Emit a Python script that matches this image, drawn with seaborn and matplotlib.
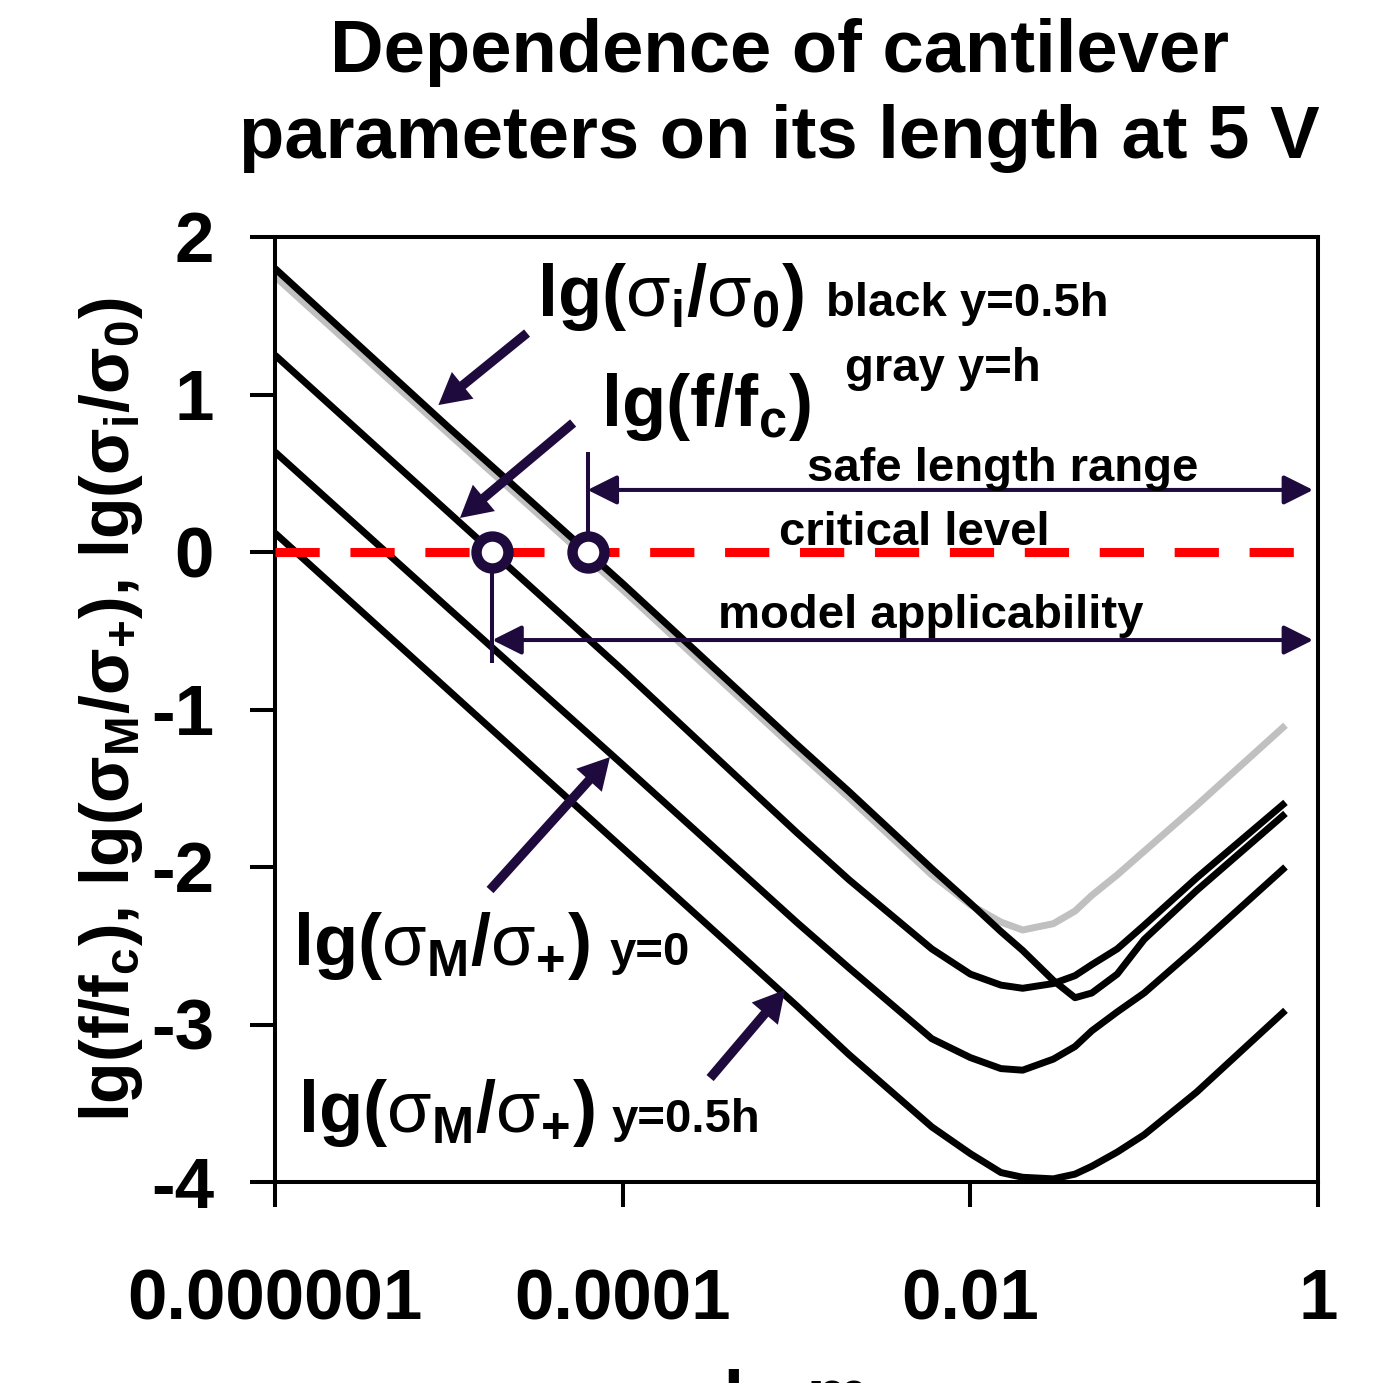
import numpy as np
import pandas as pd
import matplotlib
matplotlib.use("Agg")
import matplotlib.pyplot as plt
from matplotlib.ticker import NullLocator
import seaborn as sns

# ---------------- data ----------------
L_m = [1e-6, 1e-5, 1e-4, 1e-3, 0.002, 0.006, 0.01, 0.015, 0.02, 0.03,
       0.04, 0.05, 0.07, 0.1, 0.2, 0.65]
sigma_i_black = [1.80, 0.79, -0.20, -1.22, -1.52, -2.01, -2.23, -2.41, -2.53,
                 -2.72, -2.83, -2.80, -2.68, -2.46, -2.15, -1.66]
sigma_i_gray = [1.75, 0.75, -0.24, -1.26, -1.56, -2.05, -2.24, -2.35, -2.40,
                -2.36, -2.28, -2.18, -2.05, -1.90, -1.61, -1.10]
f_fc = [1.25, 0.25, -0.75, -1.78, -2.08, -2.52, -2.68, -2.75, -2.77, -2.74,
        -2.69, -2.62, -2.52, -2.37, -2.07, -1.59]
sigmaM_y0 = [0.635, -0.36, -1.35, -2.35, -2.64, -3.09, -3.21, -3.28, -3.29,
             -3.22, -3.14, -3.04, -2.92, -2.80, -2.51, -2.00]
sigmaM_y05h = [0.12, -0.88, -1.88, -2.88, -3.19, -3.65, -3.82, -3.94, -3.97,
               -3.98, -3.95, -3.90, -3.81, -3.70, -3.43, -2.91]

x_ticks = [1e-6, 1e-4, 1e-2, 1]
x_ticklabels = ["0.000001", "0.0001", "0.01", "1"]
y_ticks = [-4, -3, -2, -1, 0, 1, 2]
y_ticklabels = ["-4", "-3", "-2", "-1", "0", "1", "2"]
critical_level = 0.0

# ---------------- style ----------------
sns.set_theme(style="ticks")
plt.rcParams["font.family"] = ["Liberation Sans", "DejaVu Sans"]
plt.rcParams["font.weight"] = "bold"
plt.rcParams["axes.unicode_minus"] = False
plt.rcParams["mathtext.fontset"] = "custom"
plt.rcParams["mathtext.sf"] = "Liberation Sans:weight=normal"
plt.rcParams["mathtext.rm"] = "Liberation Sans:bold"
plt.rcParams["mathtext.bf"] = "Liberation Sans:bold"
plt.rcParams["mathtext.it"] = "Liberation Sans:bold:italic"

ANNOT = "#1f0a3d"
W, H = 1385, 1383

fig = plt.figure(figsize=(W / 100, H / 100), dpi=100)
ax = fig.add_axes([275 / W, 1 - 1182 / H, (1318 - 275) / W, (1182 - 237) / H])
ax.set_xscale("log")

df = pd.DataFrame({"L": L_m, "gray": sigma_i_gray, "black": sigma_i_black,
                   "f": f_fc, "m0": sigmaM_y0, "m05": sigmaM_y05h})
for col, color, z in [("gray", "#c0c0c0", 2), ("black", "black", 3), ("f", "black", 3),
                      ("m0", "black", 3), ("m05", "black", 3)]:
    sns.lineplot(data=df, x="L", y=col, color=color, lw=5, ax=ax,
                 estimator=None, sort=False, zorder=z, solid_capstyle="butt")

ax.set_xlim(1e-6, 1)
ax.set_ylim(-4, 2)
ax.set_xticks(x_ticks)
ax.set_xticklabels(x_ticklabels)
ax.xaxis.set_minor_locator(NullLocator())
ax.set_yticks(y_ticks)
ax.set_yticklabels(y_ticklabels)
ax.tick_params(axis="both", direction="out", length=18, width=2.9, color="black",
               labelsize=51, labelcolor="black")
ax.tick_params(axis="x", pad=44)
ax.tick_params(axis="y", pad=26)
for lab in ax.get_xticklabels() + ax.get_yticklabels():
    lab.set_fontweight("bold")
for sp in ax.spines.values():
    sp.set_linewidth(2.9)
    sp.set_color("black")

ax.set_ylabel("lg(f/f$_\\mathregular{c}$), lg(σ$_\\mathregular{M}$/σ$_\\mathregular{+}$), "
              "lg(σ$_\\mathregular{i}$/σ$_\\mathregular{0}$)",
              fontsize=49, fontweight="bold", labelpad=4, color="black")
ax.set_xlabel("L, m", fontsize=51, fontweight="bold", labelpad=24, color="black")

# critical level
ax.axhline(critical_level, xmin=0, xmax=(1310 - 275) / (1318 - 275), color="#ff0000",
           lw=6.5, dashes=(4.9, 3.4), zorder=4)

# crossing points with the critical level (from data)
u = np.log10(L_m)
uA = np.interp(critical_level, np.array(sigma_i_black[:4])[::-1], u[:4][::-1])
uC = np.interp(critical_level, np.array(f_fc[:4])[::-1], u[:4][::-1])
xA, xC = 10 ** uA, 10 ** uC

ax.plot([xA, xA], [0, 0.635], color=ANNOT, lw=2.9, zorder=5, solid_capstyle="butt")
ax.plot([xC, xC], [0, -0.705], color=ANNOT, lw=2.9, zorder=5, solid_capstyle="butt")
ax.plot([xA, xC], [0, 0], ls="none", marker="o", ms=23, mew=7.5, mfc="white",
        mec=ANNOT, zorder=6)

x_right = 10 ** -0.028
dim = dict(arrowstyle="<|-|>,head_length=0.4,head_width=0.2", color=ANNOT, lw=2.9,
           shrinkA=0, shrinkB=0, mutation_scale=45)
ax.annotate("", xy=(x_right, 0.394), xytext=(xA, 0.394), arrowprops=dim, zorder=5)
ax.annotate("", xy=(x_right, -0.559), xytext=(xC, -0.559), arrowprops=dim, zorder=5)

# pointer arrows (tail -> tip, in log10(L), y)
pointers = [(-4.55, 1.39, -5.06, 0.933), (-4.285, 0.819, -4.936, 0.216),
            (-4.763, -2.146, -4.073, -1.302), (-3.497, -3.34, -3.066, -2.78)]
for tu, ty, hu, hy in pointers:
    ax.annotate("", xy=(10 ** hu, hy), xytext=(10 ** tu, ty),
                arrowprops=dict(arrowstyle="simple,head_length=0.5,head_width=0.55,tail_width=0.15",
                                color=ANNOT, lw=0, shrinkA=0, shrinkB=0, mutation_scale=45),
                zorder=6)

# texts (pixel positions)
def ftext(px, py, s, size, ha="left"):
    fig.text(px / W, 1 - py / H, s, fontsize=size, fontweight="bold", ha=ha,
             va="baseline", color="black")

SI = "$\\mathsf{\\sigma}_\\mathregular{i}$"
S0 = "$\\mathsf{\\sigma}_\\mathregular{0}$"
SM = "$\\mathsf{\\sigma}_\\mathregular{M}$"
SP = "$\\mathsf{\\sigma}_\\mathregular{+}$"
BIG = 52
ftext(537, 316, "lg(" + SI + "/" + S0 + ")", BIG)
ftext(826, 316, "black y=0.5h", 34)
ftext(845, 381, "gray y=h", 34)
ftext(601, 426, "lg(f/f$_\\mathregular{c}$)", BIG)
ftext(1003, 481, "safe length range", 34, "center")
ftext(914, 545, "critical level", 34, "center")
ftext(931, 628, "model applicability", 34, "center")
ftext(293, 965, "lg(" + SM + "/" + SP + ")", BIG)
ftext(610, 965, "y=0", 34)
ftext(298, 1132, "lg(" + SM + "/" + SP + ")", BIG)
ftext(612, 1132, "y=0.5h", 34)

# title
ftext(779, 72, "Dependence of cantilever", 53.5, "center")
ftext(779, 158, "parameters on its length at 5 V", 53.5, "center")

fig.savefig("out.png", dpi=100)
